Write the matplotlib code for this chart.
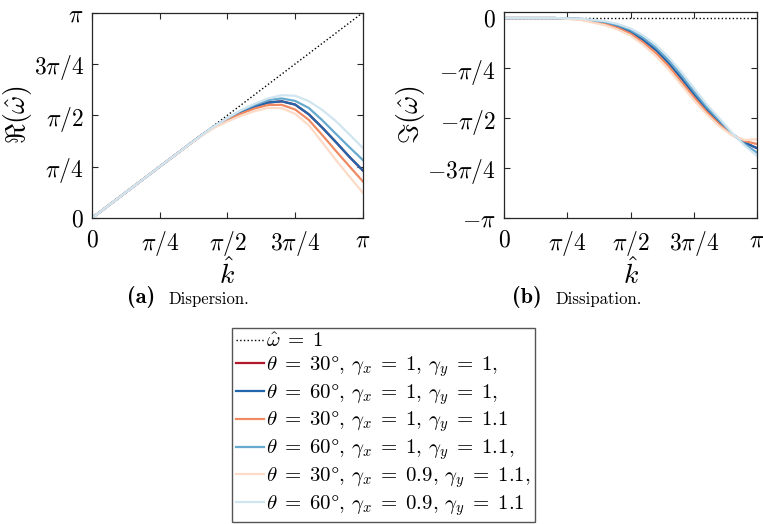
import numpy as np
import matplotlib
matplotlib.use("Agg")
import matplotlib.pyplot as plt

plt.rcParams['mathtext.fontset'] = 'cm'
plt.rcParams['font.family'] = 'serif'
plt.rcParams['font.serif'] = ['cmr10', 'DejaVu Serif']
plt.rcParams['axes.formatter.use_mathtext'] = True

# wavenumber samples, in units of pi
k = [0.0, 0.1, 0.2, 0.3, 0.4, 0.45, 0.5, 0.55, 0.6, 0.65, 0.7, 0.75, 0.8, 0.85, 0.9, 0.95, 1.0]

# real part of omega (units of pi)
re_t30_g1 = [0.0, 0.1, 0.2, 0.3, 0.399, 0.444, 0.483, 0.515, 0.542, 0.562, 0.568, 0.552, 0.505, 0.440, 0.370, 0.298, 0.231]
re_t60_g1 = [0.0, 0.1, 0.2, 0.3, 0.399, 0.444, 0.483, 0.515, 0.542, 0.562, 0.568, 0.552, 0.505, 0.440, 0.370, 0.298, 0.231]
re_t30_gy11 = [0.0, 0.1, 0.2, 0.3, 0.398, 0.443, 0.478, 0.508, 0.533, 0.550, 0.551, 0.528, 0.478, 0.404, 0.327, 0.252, 0.178]
re_t60_gy11 = [0.0, 0.1, 0.2, 0.3, 0.399, 0.445, 0.486, 0.522, 0.550, 0.574, 0.582, 0.570, 0.536, 0.476, 0.410, 0.345, 0.282]
re_t30_gx09 = [0.0, 0.1, 0.2, 0.3, 0.397, 0.438, 0.470, 0.497, 0.520, 0.536, 0.535, 0.507, 0.452, 0.368, 0.283, 0.202, 0.123]
re_t60_gx09 = [0.0, 0.1, 0.2, 0.3, 0.399, 0.445, 0.487, 0.525, 0.556, 0.582, 0.598, 0.595, 0.569, 0.526, 0.472, 0.407, 0.341]

# imaginary part of omega (units of pi)
im_t30_g1 = [0.0, 0.0, 0.0, -0.005, -0.025, -0.042, -0.068, -0.110, -0.160, -0.225, -0.300, -0.380, -0.455, -0.520, -0.580, -0.622, -0.651]
im_t60_g1 = [0.0, 0.0, 0.0, -0.005, -0.025, -0.042, -0.068, -0.110, -0.160, -0.225, -0.300, -0.380, -0.455, -0.520, -0.580, -0.622, -0.651]
im_t30_gy11 = [0.0, 0.0, 0.0, -0.007, -0.030, -0.050, -0.078, -0.122, -0.175, -0.240, -0.317, -0.395, -0.468, -0.530, -0.583, -0.615, -0.630]
im_t60_gy11 = [0.0, 0.0, 0.0, -0.004, -0.020, -0.036, -0.060, -0.098, -0.147, -0.210, -0.284, -0.365, -0.443, -0.510, -0.576, -0.630, -0.673]
im_t30_gx09 = [0.0, 0.0, 0.0, -0.009, -0.036, -0.058, -0.088, -0.134, -0.190, -0.256, -0.333, -0.410, -0.480, -0.540, -0.586, -0.610, -0.606]
im_t60_gx09 = [0.0, 0.0, 0.0, -0.003, -0.016, -0.030, -0.052, -0.087, -0.134, -0.195, -0.268, -0.350, -0.430, -0.500, -0.572, -0.637, -0.690]

labels = [r'$\theta\;=\;30\degree$, $\gamma_x\;=\;1$, $\gamma_y\;=\;1$,',
          r'$\theta\;=\;60\degree$, $\gamma_x\;=\;1$, $\gamma_y\;=\;1$,',
          r'$\theta\;=\;30\degree$, $\gamma_x\;=\;1$, $\gamma_y\;=\;1.1$',
          r'$\theta\;=\;60\degree$, $\gamma_x\;=\;1$, $\gamma_y\;=\;1.1$,',
          r'$\theta\;=\;30\degree$, $\gamma_x\;=\;0.9$, $\gamma_y\;=\;1.1$,',
          r'$\theta\;=\;60\degree$, $\gamma_x\;=\;0.9$, $\gamma_y\;=\;1.1$']
colors = ['#b2182b', '#2166ac', '#ef8a62', '#67a9cf', '#fddbc7', '#d1e5f0']

re_all = [re_t30_g1, re_t60_g1, re_t30_gy11, re_t60_gy11, re_t30_gx09, re_t60_gx09]
im_all = [im_t30_g1, im_t60_g1, im_t30_gy11, im_t60_gy11, im_t30_gx09, im_t60_gx09]

kk = np.pi * np.array(k)

fig = plt.figure(figsize=(7.63, 5.24), dpi=100)
ax1 = fig.add_axes([0.1206, 0.584, 0.355, 0.392])
ax2 = fig.add_axes([0.6606, 0.584, 0.3316, 0.393])

handles = []
h, = ax1.plot([0, np.pi], [0, np.pi], 'k:', lw=1.0)
handles.append(h)
ax2.plot([0, np.pi], [0, 0], 'k:', lw=1.0)
for re, im, c in zip(re_all, im_all, colors):
    h, = ax1.plot(kk, np.pi * np.array(re), color=c, lw=1.6)
    ax2.plot(kk, np.pi * np.array(im), color=c, lw=1.6)
    handles.append(h)

xt = [0, np.pi/4, np.pi/2, 3*np.pi/4, np.pi]
xtl = [r'$0$', r'$\pi/4$', r'$\pi/2$', r'$3\pi/4$', r'$\pi$']

for ax in [ax1, ax2]:
    ax.set_xlim(0, np.pi)
    ax.set_xticks(xt)
    ax.set_xticklabels(xtl)
    ax.tick_params(direction='in', top=True, right=True, length=4,
                   width=0.8, labelsize=17, colors='#262626', labelcolor='k')
    ax.tick_params(axis='x', pad=8)
    ax.tick_params(axis='y', pad=6)
    for s in ax.spines.values():
        s.set_color('#262626')
        s.set_linewidth(0.9)
    ax.set_xlabel(r'$\hat{k}$', fontsize=20, labelpad=0)

ax1.set_ylim(0, np.pi)
ax1.set_yticks(xt)
ax1.set_yticklabels(xtl)
ax1.set_ylabel(r'$\Re(\hat{\omega})$', fontsize=20, labelpad=0)

ax2.set_ylim(-np.pi, 0.094)
ax2.set_yticks([-np.pi, -3*np.pi/4, -np.pi/2, -np.pi/4, 0])
ax2.set_yticklabels([r'$-\pi$', r'$-3\pi/4$', r'$-\pi/2$', r'$-\pi/4$', r'$0$'])
ax2.set_ylabel(r'$\Im(\hat{\omega})$', fontsize=20, labelpad=0)

# sub-captions
fig.text(127/763, 1 - 297/524, '(a)', family='cmb10', fontsize=16, va='center')
fig.text(168/763, 1 - 299/524, 'Dispersion.', family='cmr10', fontsize=12, va='center')
fig.text(512/763, 1 - 297/524, '(b)', family='cmb10', fontsize=16, va='center')
fig.text(555/763, 1 - 299/524, 'Dissipation.', family='cmr10', fontsize=12, va='center')

leg = fig.legend(handles, [r'$\hat{\omega}\;=\;1$'] + labels, loc='upper left',
                 bbox_to_anchor=(232/763, 1 - 328/524), fontsize=15,
                 handlelength=1.35, handletextpad=0.1, labelspacing=0.15,
                 borderpad=0.2, borderaxespad=0, fancybox=False, framealpha=1)
leg.get_frame().set_edgecolor('#555555')
leg.get_frame().set_linewidth(1.0)

plt.savefig('out.png', dpi=100)
